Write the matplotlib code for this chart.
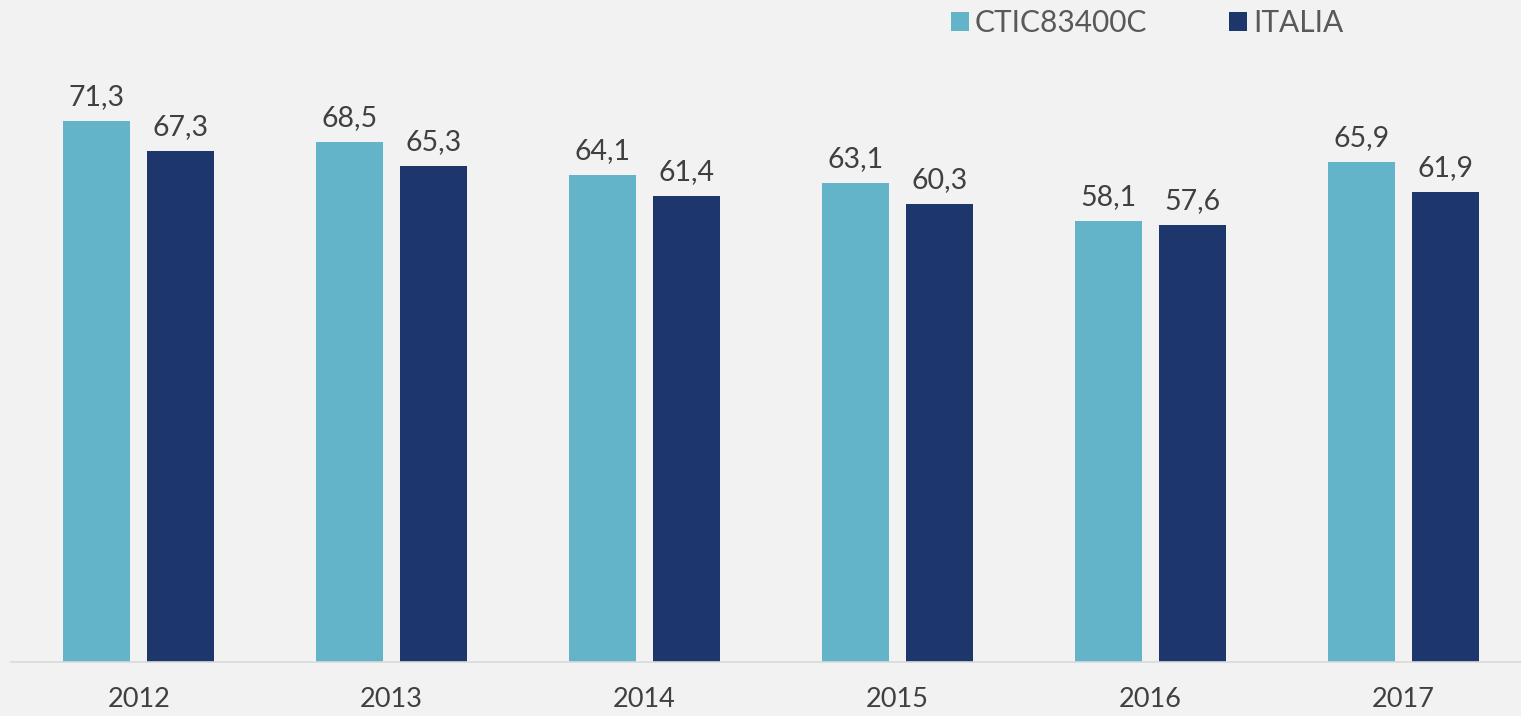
import matplotlib.pyplot as plt
import numpy as np

years = ["2012", "2013", "2014", "2015", "2016", "2017"]
school = [71.3, 68.5, 64.1, 63.1, 58.1, 65.9]
italia = [67.3, 65.3, 61.4, 60.3, 57.6, 61.9]
series_names = ["CTIC83400C", "ITALIA"]

light = "#63b4c8"
dark = "#1d366b"
bg = "#f2f2f2"

plt.rcParams['font.family'] = ['Lato', 'DejaVu Sans']

fig = plt.figure(figsize=(15.21, 7.16), dpi=100, facecolor=bg)
ax = fig.add_axes([11 / 1521, (716 - 662) / 716, 1 - 11 / 1521, 662 / 716])
ax.set_facecolor(bg)

x = np.arange(len(years))
w = 0.265
off = 0.167
b1 = ax.bar(x - off, school, w, color=light, label=series_names[0])
b2 = ax.bar(x + off, italia, w, color=dark, label=series_names[1])

for bars in (b1, b2):
    for r in bars:
        v = r.get_height()
        ax.annotate(f"{v:.1f}".replace(".", ","), (r.get_x() + r.get_width() / 2, v),
                    xytext=(0, 8), textcoords="offset points",
                    ha="center", va="bottom", fontsize=20.5, color="#404040")

ax.set_xlim(-0.505, 5.465)
ax.set_ylim(0, 87.2)
ax.set_yticks([])
ax.set_xticks(x)
ax.set_xticklabels(years, fontsize=19.5, color="#404040")
ax.tick_params(axis="x", length=0, pad=18)
for s in ["top", "right", "left"]:
    ax.spines[s].set_visible(False)
ax.spines["bottom"].set_color("#d9d9d9")
ax.spines["bottom"].set_linewidth(1.2)

leg = fig.legend(handles=[b1, b2], loc="upper left", bbox_to_anchor=(936 / 1521, 1.008),
                 ncol=2, frameon=False, fontsize=21.5, handlelength=0.6, handleheight=0.6,
                 handletextpad=0.2, columnspacing=2.75, borderaxespad=0.1)
for t in leg.get_texts():
    t.set_color("#595959")

fig.savefig("out.png", dpi=100, facecolor=bg)
